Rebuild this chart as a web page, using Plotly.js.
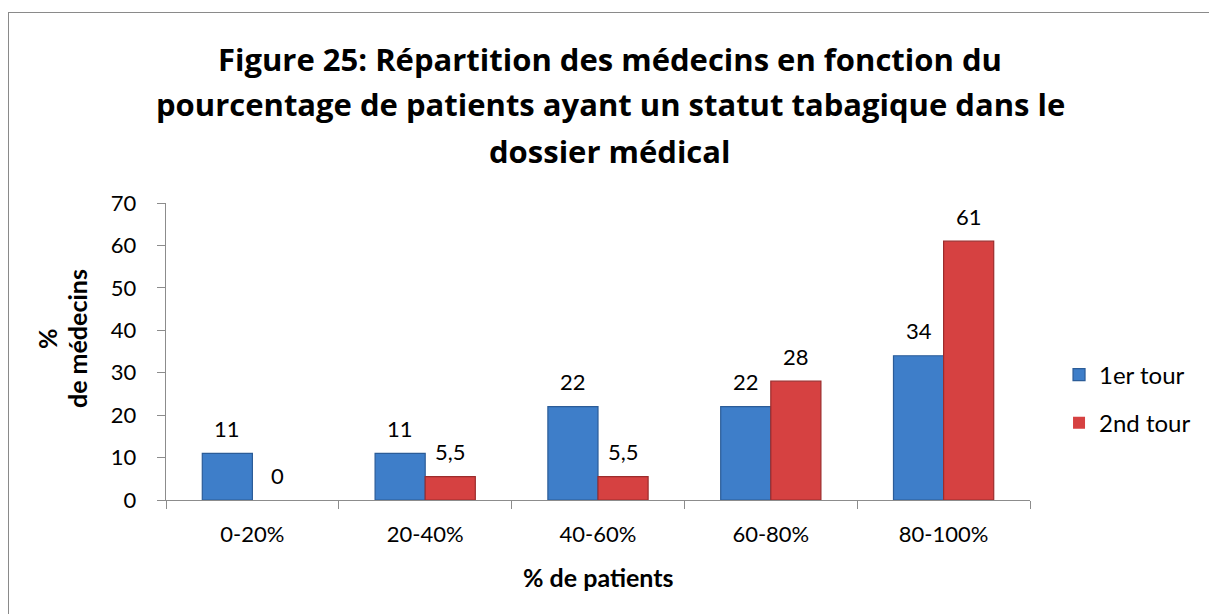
<!DOCTYPE html>
<html><head><meta charset="utf-8">
<script src="https://cdn.plot.ly/plotly-3.0.1.min.js"></script>
<style>
html,body{margin:0;padding:0;background:#fff;overflow:hidden;width:1209px;height:614px;}
#wrap{position:absolute;left:8px;top:12px;width:1210px;height:610px;border:1px solid #8a8a8a;}
#chart{width:1210px;height:610px;}
</style></head>
<body><div id="wrap"><div id="chart"></div></div>
<script>
const categories = ['0-20%', '20-40%', '40-60%', '60-80%', '80-100%'];
const tour1 = [11, 11, 22, 22, 34];
const tour2 = [0, 5.5, 5.5, 28, 61];
const seriesNames = ['1er tour', '2nd tour'];
const yTicks = [0, 10, 20, 30, 40, 50, 60, 70];
const titleLines = ['Figure 25: Répartition des médecins en fonction du',
                    'pourcentage de patients ayant un statut tabagique dans le',
                    'dossier médical'];
const yTitleLines = ['%', 'de médecins'];
const xTitle = '% de patients';

const fmt = v => String(v).replace('.', ',');
const FONT = 'Lato, "Open Sans", sans-serif';
const TFONT = '"Open Sans", Lato, sans-serif';

const W = 1210, H = 610;
const margin = {l:157, r:189, t:190, b:123};
const bargap = 0.42;
const plotW = W - margin.l - margin.r;
const barW = plotW / categories.length * (1 - bargap) / 2;
const outline = vals => vals.map(v => v === 0 ? 0 : 1.2);

const traces = [
  {type:'bar', name:seriesNames[0], x:categories, y:tour1, legendgroup:'a', hoverinfo:'none',
   marker:{color:'#3e7ec9', line:{color:'#2b5c98', width:outline(tour1)}}},
  {type:'bar', name:seriesNames[1], x:categories, y:tour2, legendgroup:'b', hoverinfo:'none',
   marker:{color:'#d64141', line:{color:'#9c2c2c', width:outline(tour2)}}}
];

const annotations = [];
// data labels
[tour1, tour2].forEach((vals, si) => {
  vals.forEach((v, i) => {
    annotations.push({xref:'x', yref:'y', x:categories[i], y:v, text:fmt(v),
      showarrow:false, xanchor:'center', yanchor:'middle',
      xshift:(si === 0 ? -1 : 1) * barW / 2, yshift:25,
      font:{size:22, family:FONT, color:'#000'}});
  });
});
// title lines
const titleY = [1.4848, 1.3333, 1.1751];
titleLines.forEach((t, i) => annotations.push({xref:'paper', yref:'paper', x:0.5139, y:titleY[i],
  text:'<b>' + t + '</b>', showarrow:false, xanchor:'center', yanchor:'middle',
  font:{size:31, family:TFONT, color:'#000'}}));
// y axis title (two lines)
const yTitleX = [-0.1377, -0.1030];
yTitleLines.forEach((t, i) => annotations.push({xref:'paper', yref:'paper', x:yTitleX[i], y:0.542,
  text:'<b>' + t + '</b>', showarrow:false, textangle:-90, xanchor:'center', yanchor:'middle',
  font:{size:25, family:FONT, color:'#000'}}));
// x axis title
annotations.push({xref:'paper', yref:'paper', x:0.5, y:-0.259, text:'<b>' + xTitle + '</b>',
  showarrow:false, xanchor:'center', yanchor:'middle', font:{size:25, family:FONT, color:'#000'}});

const layout = {
  width:W, height:H, margin:margin,
  paper_bgcolor:'#fff', plot_bgcolor:'#fff',
  font:{family:FONT, color:'#000', size:22},
  barmode:'group', bargap:bargap, bargroupgap:0,
  xaxis:{type:'category', showline:true, linecolor:'#8c8c8c', linewidth:1.3,
    ticks:'outside', tickson:'boundaries', ticklen:8, tickcolor:'#8c8c8c',
    tickfont:{size:22}, showgrid:false, ticklabelstandoff:14},
  yaxis:{range:[0,70], tickvals:yTicks, showline:true, linecolor:'#8c8c8c', linewidth:1.3,
    ticks:'outside', ticklen:8, tickcolor:'#8c8c8c', showgrid:false, zeroline:false,
    tickfont:{size:22}, ticklabelstandoff:16},
  legend:{x:1.0336, xanchor:'left', y:0.34, yanchor:'middle', traceorder:'grouped',
    tracegroupgap:14, font:{size:24}, bgcolor:'rgba(0,0,0,0)'},
  annotations:annotations,
  showlegend:true
};
Plotly.newPlot('chart', traces, layout, {displayModeBar:false, staticPlot:true});
</script></body></html>
